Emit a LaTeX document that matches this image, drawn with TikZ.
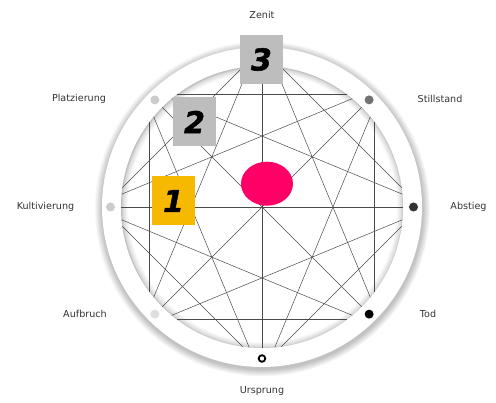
\documentclass[tikz,border=0pt]{standalone}
\usepackage{fontspec}
\setmainfont{DejaVu Sans}
\newfontfamily\digitfont[FakeBold=1.6]{DejaVu Sans Bold Oblique}
\usetikzlibrary{shapes.geometric}
\definecolor{pinkdot}{HTML}{FF0066}
\definecolor{stepgold}{HTML}{F7B800}
\definecolor{boxgray}{HTML}{BDBDBD}
\definecolor{chord}{HTML}{4A4A4A}
% soft edge inside the ring
\pgfdeclareradialshading{innerrim}{\pgfpoint{0bp}{0bp}}{color(0bp)=(white); color(23.8bp)=(white); color(24.7bp)=(black!14); color(25bp)=(black!26); color(50bp)=(black!26)}
% soft shadow outside the ring
\pgfdeclareradialshading{outerglow}{\pgfpoint{0bp}{0bp}}{color(0bp)=(black!24); color(23.9bp)=(black!24); color(25bp)=(white); color(50bp)=(white)}
\tikzset{
  stepbox/.style={minimum width=43, minimum height=49, inner sep=0pt,
    font=\fontsize{30}{30}\selectfont\digitfont},
  phase/.style={font=\fontsize{9.6}{11}\selectfont, text=black!80, inner sep=0pt},
  chordline/.style={chord, line width=0.5pt}
}

\begin{document}
\begin{tikzpicture}[x=1pt,y=1pt]
  \useasboundingbox (-262,-196) rectangle (234,207);

  % ring with its shadows
  \shade[shading=outerglow] (0,-1.5) circle (168);
  \fill[white] (0,0) circle (160);
  \shade[shading=innerrim] (0,0) circle (141);

  % two squares, the eight-point star and the diameters
  \foreach \n in {0,45,...,315} {
    \draw[chordline] (\n-37.1:141) -- (\n+37.1:141);
    \draw[chordline] (\n+22.5-62.3:141) -- (\n+22.5+62.3:141);
  }
  \foreach \n in {0,45,90,135}
    \draw[chordline] (\n:141) -- (\n+180:141);

  % phase dots on the ring
  \foreach \ang/\col in {90/black!30, 135/black!20, 180/black!20, 225/black!13,
                         45/black!55, 0/black!80, -45/black}
    \fill[\col] (\ang:151.5) circle (4.5);
  \draw[black, fill=white, line width=1.8] (-90:151.5) circle (3.3);

  % centre
  \node[ellipse, fill=pinkdot, minimum width=52, minimum height=44, inner sep=0pt] (core) at (5,23.3) {};

  % steps
  \node[stepbox, fill=boxgray] (three) at (-0.5,147.5) {\raisebox{-3pt}{3}};
  \node[stepbox, fill=boxgray] (two) at (-67.5,85) {\raisebox{-3pt}{2}};
  \node[stepbox, fill=stepgold] (one) at (-88.5,6) {\raisebox{-3pt}{1}};

  % phase names
  \node[phase] (zenit) at (0,192) {Zenit};
  \node[phase] (stillstand) at (178,108) {Stillstand};
  \node[phase] (abstieg) at (206.5,0) {Abstieg};
  \node[phase] (tod) at (166,-107) {Tod};
  \node[phase] (ursprung) at (0,-184) {Ursprung};
  \node[phase] (aufbruch) at (-177,-107) {Aufbruch};
  \node[phase] (kultivierung) at (-216.5,0) {Kultivierung};
  \node[phase] (platzierung) at (-183,108) {Platzierung};
\end{tikzpicture}
\end{document}
